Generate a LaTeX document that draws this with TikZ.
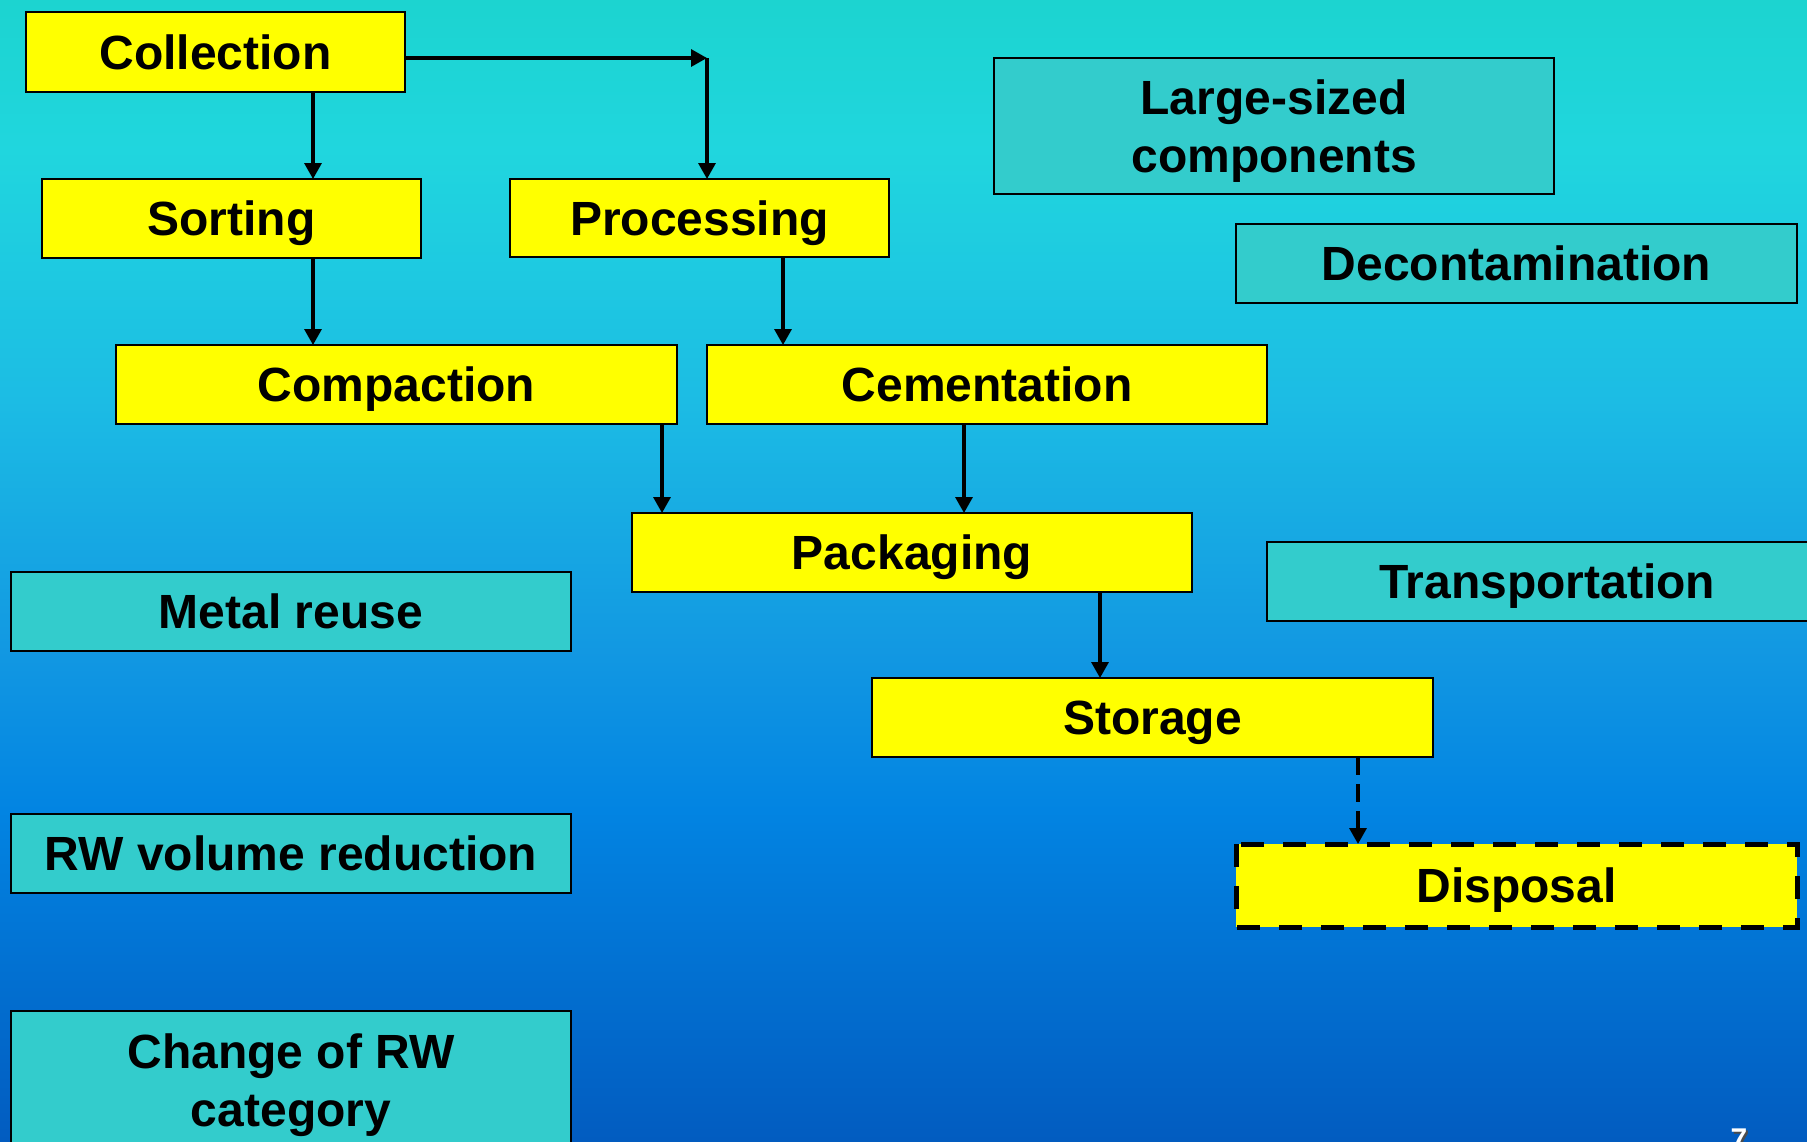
\documentclass[tikz,border=0pt]{standalone}
\usepackage{fontspec}
\setmainfont{Liberation Sans}
\usetikzlibrary{arrows.meta}

\definecolor{stageyellow}{RGB}{255,255,0}
\definecolor{topicteal}{RGB}{51,204,204}
\definecolor{bgA}{RGB}{28,212,208}
\definecolor{bgB}{RGB}{32,214,222}
\definecolor{bgC}{RGB}{28,188,228}
\definecolor{bgD}{RGB}{18,152,226}
\definecolor{bgE}{RGB}{2,132,226}
\definecolor{bgF}{RGB}{2,92,192}

\begin{document}
\begin{tikzpicture}[x=1pt,y=-1pt,
  box/.style={draw=black, line width=2pt, inner sep=0pt, outer sep=0pt,
    align=center, text depth=0pt, font=\bfseries\fontsize{48}{58}\selectfont},
  stage/.style={box, fill=stageyellow},
  topic/.style={box, fill=topicteal},
  flow/.style={-{Triangle[width=17pt,length=16pt]}, line width=3.3pt},
  planned/.style={flow, dash pattern=on 18pt off 9pt},
]
\path[use as bounding box] (0,0) rectangle (1807,1141);

% background: vertical blue gradient built from stacked bands
\shade[top color=bgA, bottom color=bgB] (0,0) rectangle (1807,151);
\shade[top color=bgB, bottom color=bgC] (0,150) rectangle (1807,401);
\shade[top color=bgC, bottom color=bgD] (0,400) rectangle (1807,651);
\shade[top color=bgD, bottom color=bgE] (0,650) rectangle (1807,811);
\shade[top color=bgE, bottom color=bgF] (0,810) rectangle (1807,1141);

% process chain
\node[stage, minimum width=379pt, minimum height=80pt] (collection) at (215.5,52) {Collection};
\node[stage, minimum width=379pt, minimum height=79pt] (sorting) at (231.5,218.5) {Sorting};
\node[stage, minimum width=379pt, minimum height=78pt] (processing) at (699.5,218) {Processing};
\node[stage, minimum width=561pt, minimum height=79pt] (compaction) at (396.5,384.5) {Compaction};
\node[stage, minimum width=560pt, minimum height=79pt] (cementation) at (987,384.5) {Cementation};
\node[stage, minimum width=560pt, minimum height=79pt] (packaging) at (912,552.5) {Packaging};
\node[stage, minimum width=561pt, minimum height=79pt] (storage) at (1152.5,717.5) {Storage};
\node[stage, draw=none, minimum width=561pt, minimum height=83pt] (disposal) at (1516.5,885.5) {Disposal};
\draw[line width=5pt, dash pattern=on 23pt off 19pt]
  (disposal.north west) rectangle (disposal.south east);

% related topics
\node[topic, minimum width=560pt, minimum height=136pt] (largesized) at (1274,126) {Large-sized\\components};
\node[topic, minimum width=561pt, minimum height=79pt] (decontamination) at (1516.5,263.5) {Decontamination};
\node[topic, minimum width=560pt, minimum height=79pt] (transportation) at (1547,581.5) {Transportation};
\node[topic, minimum width=560pt, minimum height=79pt] (metalreuse) at (291,611.5) {Metal reuse};
\node[topic, minimum width=560pt, minimum height=79pt] (volumereduction) at (291,853.5) {RW volume reduction};
\node[topic, minimum width=560pt, minimum height=138pt] (category) at (291,1080) {Change of RW\\category};

% slide number
\node[anchor=base, text=black!70, font=\bfseries\fontsize{30}{30}\selectfont] (pagenumshadow) at (1741,1151) {7};
\node[anchor=base, text=white, font=\bfseries\fontsize{30}{30}\selectfont] (pagenum) at (1739,1149) {7};

% connector columns
\coordinate (colA) at (313,0);
\coordinate (corner) at (707,58);
\coordinate (colC) at (783,0);
\coordinate (colD) at (662,0);
\coordinate (colE) at (964,0);
\coordinate (colF) at (1100,0);
\coordinate (colG) at (1358,0);

\draw[flow] (collection.south -| colA) -- (sorting.north -| colA);
\draw[flow] (collection.east |- corner) -- (corner);
\draw[flow] (corner) -- (processing.north -| corner);
\draw[flow] (sorting.south -| colA) -- (compaction.north -| colA);
\draw[flow] (processing.south -| colC) -- (cementation.north -| colC);
\draw[flow] (compaction.south -| colD) -- (packaging.north -| colD);
\draw[flow] (cementation.south -| colE) -- (packaging.north -| colE);
\draw[flow] (packaging.south -| colF) -- (storage.north -| colF);
\draw[planned] (storage.south -| colG) -- (disposal.north -| colG);
\end{tikzpicture}
\end{document}
